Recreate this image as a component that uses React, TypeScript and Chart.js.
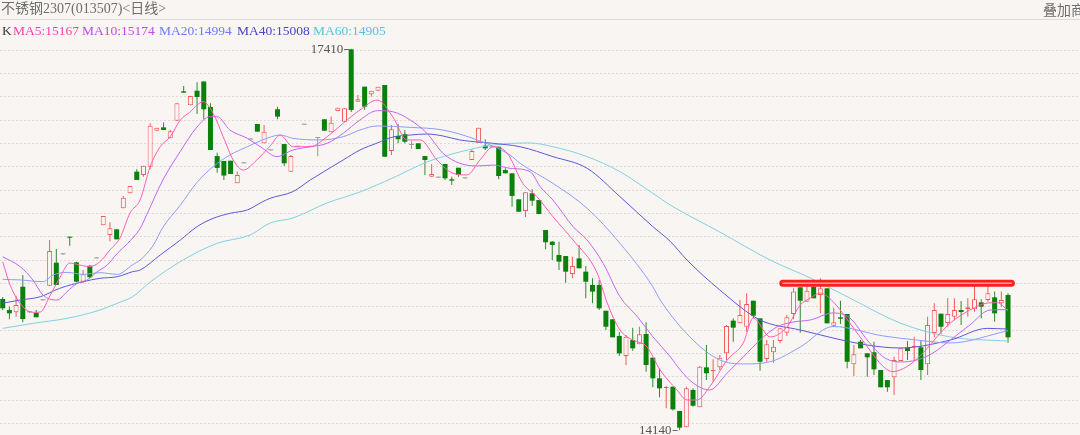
import React, { useEffect, useRef } from "react";
import { Chart, registerables } from "chart.js";

Chart.register(...registerables);

// ---- candle data (index 0..150) ----
const opens = [15266,15171,15152,15371,15152,15148,15255,15380,15577,15649,
15800,15580,15414,15551,15614,15897,15814,15863,16043,16172,
16357,16329,16400,16708,16737,16643,16794,17046,16926,17051,
17130,16912,16491,16449,16451,16257,16429,16633,16766,16600,
16540,16892,16594,16357,16571,16760,16571,16646,16806,16695,
16877,16786,17406,16957,17086,17020,17051,17100,16534,16663,
16678,16586,16600,16491,16314,16306,16423,16292,16391,16300,
16457,16605,16580,16566,16571,16371,16343,16120,16020,16172,
16114,15857,15757,15643,15634,15480,15614,15500,15386,15386,
15165,15092,14949,14777,14914,14877,14966,14763,14586,14503,
14514,14306,14166,14486,14337,14680,14646,14680,14800,15080,
15057,15028,15251,15100,14751,14809,14906,14977,15137,15366,
15243,15371,15300,15357,15037,15109,15137,14706,14900,14800,
14809,14657,14571,14595,14734,14849,14852,14852,14706,14974,
15140,15060,15114,15171,15177,15177,15237,15257,15280,15229,
15300];

const highs = [15283,15200,15294,15471,15160,15171,15258,15771,15694,15652,
15800,15586,15514,15557,15617,15977,15923,15863,16149,16234,
16378,16408,16772,16734,16779,16714,16943,17091,17006,17123,
17130,16943,16520,16449,16451,16357,16431,16635,16766,16757,
16543,16914,16594,16500,16574,16763,16574,16651,16806,16829,
16905,16900,17410,17014,17086,17051,17086,17100,16757,16766,
16714,16620,16600,16491,16423,16309,16423,16314,16391,16303,
16549,16734,16635,16569,16571,16386,16343,16120,16180,16206,
16114,15857,15763,15757,15634,15628,15729,15549,15443,15429,
15165,15092,14986,14957,15020,15028,15066,14763,14672,14520,
14514,14306,14514,14500,14691,14871,14749,14786,15043,15100,
15257,15315,15251,15100,14914,14914,15014,15129,15357,15366,
15386,15405,15443,15357,15191,15251,15137,14871,14914,14800,
14900,14657,14571,14771,14843,14906,14943,14914,15114,15229,
15140,15274,15272,15249,15272,15386,15263,15406,15329,15329,
15315];

const lows = [15171,15092,15114,15066,15145,15109,15252,15380,15386,15646,
15723,15409,15400,15446,15612,15897,15760,15777,16043,16172,
16286,16314,16380,16708,16714,16643,16794,17034,16926,16851,
16804,16543,16348,16286,16337,16257,16427,16631,16700,16600,
16537,16806,16406,16357,16568,16757,16568,16489,16708,16695,
16877,16786,16869,16957,16886,17000,17051,16485,16500,16600,
16600,16551,16551,16329,16314,16303,16286,16243,16314,16297,
16457,16605,16543,16563,16292,16343,16057,16014,15969,16063,
15994,15692,15600,15514,15405,15443,15529,15272,15229,15171,
15000,14937,14777,14700,14822,14877,14643,14509,14423,14329,
14310,14140,14166,14343,14337,14571,14557,14657,14743,14900,
15057,14985,15100,14651,14728,14720,14886,14949,15092,14977,
15243,15272,15143,15057,15028,15051,14672,14606,14843,14600,
14614,14509,14471,14443,14734,14743,14743,14571,14614,14937,
14968,15028,15086,15043,15114,15157,15100,15243,15071,15200,
14891];

const closes = [15186,15143,15214,15094,15152,15109,15255,15677,15386,15649,
15791,15414,15477,15452,15614,15977,15872,15777,16134,16234,
16286,16408,16751,16734,16714,16703,16943,17034,17006,16997,
16892,16543,16389,16324,16337,16329,16429,16633,16700,16700,
16540,16829,16429,16491,16571,16760,16571,16646,16708,16777,
16905,16900,16886,16977,16914,17051,17086,16485,16720,16635,
16614,16586,16551,16457,16337,16306,16300,16280,16329,16300,
16534,16734,16557,16566,16320,16343,16149,16014,16180,16108,
15994,15752,15729,15586,15500,15549,15529,15414,15329,15186,
15028,14937,14800,14943,14843,14963,14700,14586,14500,14509,
14320,14163,14500,14351,14686,14629,14657,14763,15034,15020,
15129,15223,15123,14728,14877,14857,15014,15109,15329,15251,
15337,15272,15357,15057,15066,15097,14728,14792,14843,14766,
14663,14509,14509,14743,14843,14820,14866,14657,15043,15171,
15028,15137,15171,15154,15195,15263,15200,15315,15143,15257,
14937];

// ---- moving averages: [candle index, value] ----
const ma5: [number, number][] = [[0,15585],[1.1,15386],[3,15200],[4.5,15152],[5.6,15154],[7.1,15300],[8.5,15446],[10,15574],[11.5,15557],[13,15543],[14.5,15585],[16,15686],[17.5,15789],[19,16003],[20.5,16114],[22,16400],[23.5,16571],[25,16657],[26.5,16800],[28,16871],[29,16929],[29.9,16957],[31.4,16857],[32.9,16657],[34.4,16457],[35.9,16371],[37.9,16457],[39.9,16577],[41.4,16671],[43.3,16571],[45.9,16571],[48.4,16657],[50.8,16772],[53.3,16886],[55.9,16971],[58.2,16828],[60.3,16629],[62.3,16629],[64.8,16457],[67.2,16343],[69.3,16329],[71.2,16457],[73.2,16571],[75.3,16514],[77.6,16257],[79.7,16143],[82.1,15971],[85.1,15771],[88.7,15489],[90.2,15231],[92.1,15000],[94,14914],[96.1,14857],[98.1,14657],[100.6,14486],[102.1,14400],[103.6,14400],[105.5,14514],[108.1,14743],[110.5,14889],[112,15103],[114.5,14940],[117,15026],[119,15214],[120.5,15274],[122,15317],[123.9,15243],[126.4,15060],[129,14857],[131.4,14686],[132.8,14643],[134.9,14686],[137.3,14803],[139.9,14974],[141.4,15060],[144.3,15171],[146.9,15231],[148.4,15234],[150,15167]];

const ma10: [number, number][] = [[0,15628],[2.6,15543],[4.5,15429],[6,15300],[8.1,15257],[9.6,15328],[11.1,15400],[12.6,15429],[14.1,15500],[15.6,15557],[17.1,15657],[18.6,15740],[20.5,15870],[21.5,15990],[23.9,16286],[26.5,16531],[29,16740],[30.9,16828],[32,16828],[33.9,16714],[36.5,16643],[38.8,16557],[40.9,16486],[43.3,16543],[45.9,16571],[48.4,16600],[50.8,16686],[53.3,16800],[55.9,16880],[58.2,16871],[60.8,16800],[63.3,16686],[65.7,16514],[68.2,16429],[70.8,16406],[73.2,16414],[75.7,16386],[78.7,16357],[80.2,16228],[82.1,16114],[85.1,15886],[87.2,15771],[89.6,15571],[92.1,15286],[94.7,15114],[97,14943],[99.6,14771],[101.1,14657],[103,14546],[105.5,14486],[108.1,14631],[110.5,14769],[113,14914],[115.5,15026],[117.9,15068],[120.5,15086],[123.9,15146],[126.4,15103],[129,14914],[131.4,14769],[133.9,14726],[136.4,14743],[138.8,14803],[141.4,14914],[144.3,15043],[147.3,15171],[150,15174]];

const ma20: [number, number][] = [[0,15434],[2.6,15429],[6,15414],[7.5,15471],[9.6,15494],[12,15477],[14.5,15491],[17.1,15477],[19.4,15560],[20.5,15600],[22.4,15720],[23.9,15880],[26.5,16070],[29,16266],[31.4,16400],[33.9,16500],[36.5,16571],[38.8,16630],[41.4,16671],[43.3,16643],[47.3,16629],[50.8,16657],[53.3,16714],[55.9,16749],[60.8,16737],[65.7,16714],[70.8,16629],[75.7,16500],[77.2,16429],[82.1,16257],[87.2,16043],[92.1,15743],[97,15371],[98.1,15257],[103,14914],[107,14743],[110.5,14709],[114.5,14728],[119,14854],[123.9,15030],[131.4,14949],[136.4,14914],[141.4,14889],[150,14994]];

const ma40: [number, number][] = [[0,15230],[2.6,15257],[5.6,15285],[8.5,15357],[12,15414],[14.5,15443],[17.1,15457],[19.4,15500],[20.5,15514],[23.5,15643],[26.5,15771],[29,15886],[31.4,15957],[33.9,16000],[36.5,16029],[38.8,16100],[39.9,16129],[43.3,16186],[45.9,16286],[50.8,16457],[53.3,16543],[55.9,16603],[58.2,16654],[60.8,16671],[63.3,16680],[65.7,16663],[68.2,16629],[73.2,16600],[77.2,16571],[82.1,16486],[87.2,16386],[92.1,16143],[97,15886],[99.6,15760],[102.1,15600],[107,15343],[113,15086],[119,15000],[129,14871],[133.9,14846],[141.4,14914],[146.9,15014],[150,15008]];

const ma60: [number, number][] = [[0,15014],[4.5,15057],[9.6,15100],[14.5,15171],[17.1,15229],[19.4,15286],[22,15411],[26.9,15600],[32,15743],[36.9,15814],[39.9,15917],[43.3,15960],[48.4,16089],[53.3,16183],[58.2,16303],[63.3,16440],[68.2,16526],[73.2,16586],[78.7,16603],[82.1,16571],[87.2,16486],[92.1,16357],[97,16172],[99.6,16071],[107,15840],[114.5,15600],[120.5,15446],[126.4,15274],[133.9,15060],[141.4,14940],[150,14905]];

// horizontal grid values
const gridTicks = [14200,14400,14600,14800,15000,15200,15400,15600,15800,16000,16200,16400,16600,16800,17000,17200,17400];

// hand-drawn resistance line
const markLineIdx = [116.4, 150.5];
const markLinePrice = 15400;

// header texts
const titleText = "不锈钢2307(013507)<日线>";
const overlayText = "叠加商";
const legendItems = [
  { text: "K", color: "#3a3a3a", left: 2 },
  { text: "MA5:15167", color: "#ff3cb4", left: 13 },
  { text: "MA10:15174", color: "#c646f0", left: 82 },
  { text: "MA20:14994", color: "#6c7cff", left: 159 },
  { text: "MA40:15008", color: "#4646c8", left: 237 },
  { text: "MA60:14905", color: "#55c2df", left: 313 },
];

const BG = "#f8f5f2";
const UP = "#f15a5a";
const DOWN = "#0c800c";
const FLAT = "#9a9a9a";

export default function App() {
  const ref = useRef<HTMLCanvasElement | null>(null);

  useEffect(() => {
    if (!ref.current) return;
    const idx = opens.map((_, i) => i);
    const dir = (i: number) => (closes[i] > opens[i] ? 1 : closes[i] < opens[i] ? -1 : 0);
    const wickColors = idx.map((i) => (dir(i) > 0 ? UP : dir(i) < 0 ? "#2f8a2f" : FLAT));
    const bodyFill = idx.map((i) => (dir(i) > 0 ? BG : dir(i) < 0 ? DOWN : FLAT));
    const bodyBorder = idx.map((i) => (dir(i) > 0 ? UP : dir(i) < 0 ? DOWN : FLAT));
    const bodyBorderW = idx.map((i) => (dir(i) > 0 ? 1 : 0));

    const maLine = (pts: [number, number][], color: string, order: number) => ({
      type: "line" as const,
      data: pts.map(([x, y]) => ({ x, y })),
      borderColor: color,
      borderWidth: 1,
      pointRadius: 0,
      cubicInterpolationMode: "monotone" as const,
      fill: false,
      order,
    });

    const extremes = {
      id: "extremes",
      afterDatasetsDraw(chart: any) {
        const ctx = chart.ctx;
        const xs = chart.scales.x;
        const ys = chart.scales.y;
        let hi = 0;
        let lo = 0;
        highs.forEach((v, i) => { if (v > highs[hi]) hi = i; });
        lows.forEach((v, i) => { if (v < lows[lo]) lo = i; });
        const draw = (i: number, v: number) => {
          const x = xs.getPixelForValue(i);
          const y = ys.getPixelForValue(v);
          ctx.save();
          ctx.strokeStyle = "#666";
          ctx.lineWidth = 1;
          ctx.beginPath();
          ctx.moveTo(x - 7, Math.round(y) + 0.5);
          ctx.lineTo(x - 2, Math.round(y) + 0.5);
          ctx.stroke();
          ctx.fillStyle = "#555";
          ctx.font = '13px "Liberation Serif", serif';
          ctx.textAlign = "right";
          ctx.textBaseline = "middle";
          ctx.fillText(String(v), x - 8, y + 0.5);
          ctx.restore();
        };
        draw(hi, highs[hi]);
        draw(lo, lows[lo]);
      },
    };

    const chart = new Chart(ref.current, {
      type: "bar",
      data: {
        datasets: [
          {
            type: "line",
            data: markLineIdx.map((x) => ({ x, y: markLinePrice })),
            borderColor: "#ff1e1e",
            borderWidth: 7,
            borderCapStyle: "round",
            pointRadius: 0,
            order: 1,
          } as any,
          {
            type: "line",
            data: markLineIdx.map((x) => ({ x, y: markLinePrice })),
            borderColor: "#ff9a9a",
            borderWidth: 1.5,
            borderCapStyle: "round",
            pointRadius: 0,
            order: 0,
          } as any,
          maLine(ma5, "#ff5cb8", 2),
          maLine(ma10, "#c266f0", 3),
          maLine(ma20, "#8d9cff", 4),
          maLine(ma40, "#5a5ad6", 5),
          maLine(ma60, "#80d0e2", 6),
          {
            type: "bar",
            data: idx.map((i) => ({ x: i, y: [opens[i], closes[i]] })),
            backgroundColor: bodyFill,
            borderColor: bodyBorder,
            borderWidth: bodyBorderW,
            borderSkipped: false,
            barThickness: 5,
            grouped: false,
            minBarLength: 1,
            inflateAmount: 0,
            order: 7,
          } as any,
          {
            type: "bar",
            data: idx.map((i) => ({ x: i, y: [lows[i], highs[i]] })),
            backgroundColor: wickColors,
            borderWidth: 0,
            barThickness: 1,
            grouped: false,
            minBarLength: 1,
            inflateAmount: 0,
            order: 8,
          } as any,
        ],
      },
      options: {
        responsive: false,
        animation: false,
        events: [],
        layout: { padding: 0 },
        plugins: { legend: { display: false }, tooltip: { enabled: false } },
        scales: {
          x: {
            type: "linear",
            display: false,
            min: -0.403,
            max: 160.74,
            offset: false,
            grid: { display: false, offset: false },
          },
          y: {
            type: "linear",
            min: 14100,
            max: 17828.6,
            beginAtZero: false,
            bounds: "data",
            afterFit: (s: any) => { s.width = 0; },
            afterBuildTicks: (s: any) => { s.ticks = gridTicks.map((v) => ({ value: v })); },
            ticks: { display: false },
            grid: { color: "#dedad6", drawTicks: false, lineWidth: 1 },
            border: { display: false, dash: [2, 2] },
          },
        },
      } as any,
      plugins: [extremes],
    });
    return () => chart.destroy();
  }, []);

  return (
    <div style={{ position: "fixed", left: 0, top: 0, width: 1080, height: 435, background: BG, overflow: "hidden" }}>
      <canvas ref={ref} width={1080} height={435} style={{ position: "absolute", left: 0, top: 0, width: 1080, height: 435 }} />
      <div style={{ position: "absolute", left: 1, top: 0, height: 18, lineHeight: "18px", fontSize: 14, color: "#6e6e6e", fontFamily: '"Liberation Serif", "Noto Sans CJK SC", serif', whiteSpace: "nowrap" }}>
        {titleText}
      </div>
      <div style={{ position: "absolute", left: 1043, top: 0, height: 18, lineHeight: "18px", fontSize: 14, color: "#6e6e6e", fontFamily: '"Noto Sans CJK SC", sans-serif', whiteSpace: "nowrap" }}>
        {overlayText}
      </div>
      <div style={{ position: "absolute", left: 0, top: 19, width: 1080, height: 1, background: "#dedbd7" }} />
      {legendItems.map((it) => (
        <div key={it.text} style={{ position: "absolute", left: it.left, top: 23, height: 16, lineHeight: "16px", fontSize: 13.5, color: it.color, fontFamily: '"Liberation Serif", serif', whiteSpace: "nowrap" }}>
          {it.text}
        </div>
      ))}
    </div>
  );
}
